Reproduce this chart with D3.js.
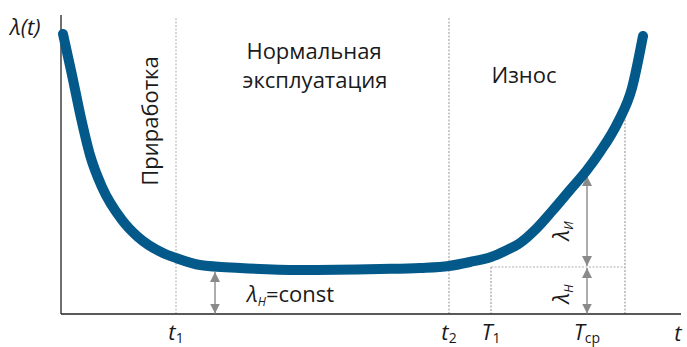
<!DOCTYPE html>
<html lang="ru">
<head>
  <meta charset="utf-8">
  <title>Кривая интенсивности отказов</title>
  <script src="https://d3js.org/d3.v7.min.js"></script>
  <style>
    body { margin: 0; background: #fff; }
    text { font-family: "Open Sans", "Noto Sans", sans-serif; fill: #1a1a1a; }
  </style>
</head>
<body>
<div id="chart"></div>
<script>
const w = 687;
const h = 347;

// bathtub curve (t, lambda in axis units)
const curveT      = [2, 11, 20, 29, 41, 61, 77, 102, 115, 139, 179, 239, 319, 359, 388, 409, 430, 444, 459, 476, 492, 509, 526, 539, 557, 571, 582];
const curveLambda = [280, 239, 196, 159, 127, 94, 77, 61, 56, 49, 46, 44, 45, 46, 48, 52, 57, 63, 71, 86, 104, 124, 144, 162, 192, 226, 278];

// marks on the time axis
const markT    = [115, 388, 430, 526];
const markBase = ["t", "t", "T", "T"];
const markSub  = ["1", "2", "1", "ср"];

const lambdaH = 47;     // level of the constant rate
const lambdaI = 138;    // top of the wear-out arrow
const tCp = 564;        // right dotted line

const phaseLabels = ["Приработка", "Нормальная", "эксплуатация", "Износ"];

const x = d3.scaleLinear().domain([0, 620]).range([61, 681]);
const y = d3.scaleLinear().domain([0, 300]).range([314, 14]);

const svg = d3.select("#chart").append("svg")
  .attr("width", w)
  .attr("height", h);

// dotted guides
svg.append("line")
  .attr("x1", x(markT[0])).attr("x2", x(markT[0]))
  .attr("y1", y(296)).attr("y2", y(0))
  .attr("stroke", "#bdbdbd").attr("stroke-width", 1.2).attr("stroke-dasharray", "2,1.5");
svg.append("line")
  .attr("x1", x(markT[1])).attr("x2", x(markT[1]))
  .attr("y1", y(296)).attr("y2", y(0))
  .attr("stroke", "#a8a8a8").attr("stroke-width", 1.2).attr("stroke-dasharray", "2,1.5");
svg.append("line")
  .attr("x1", x(markT[2])).attr("x2", x(markT[2]))
  .attr("y1", y(lambdaH)).attr("y2", y(0))
  .attr("stroke", "#a0a0a0").attr("stroke-width", 1.2).attr("stroke-dasharray", "2,1.5");
svg.append("line")
  .attr("x1", x(tCp)).attr("x2", x(tCp))
  .attr("y1", y(212)).attr("y2", y(0))
  .attr("stroke", "#a0a0a0").attr("stroke-width", 1.2).attr("stroke-dasharray", "2,1.5");
svg.append("line")
  .attr("x1", x(markT[2])).attr("x2", x(tCp))
  .attr("y1", y(lambdaH)).attr("y2", y(lambdaH))
  .attr("stroke", "#b0b0b0").attr("stroke-width", 1.2).attr("stroke-dasharray", "2,1.5");

// axes
svg.append("line")
  .attr("x1", x(0)).attr("x2", x(0)).attr("y1", y(299)).attr("y2", y(0))
  .attr("stroke", "#222").attr("stroke-width", 1.3);
svg.append("line")
  .attr("x1", x(0)).attr("x2", x(620)).attr("y1", y(0)).attr("y2", y(0))
  .attr("stroke", "#222").attr("stroke-width", 1.3);

// arrow heads
svg.append("defs").append("marker")
  .attr("id", "head")
  .attr("viewBox", "0 0 10 10")
  .attr("refX", 10).attr("refY", 5)
  .attr("markerWidth", 10).attr("markerHeight", 10)
  .attr("markerUnits", "userSpaceOnUse")
  .attr("orient", "auto-start-reverse")
  .append("path")
  .attr("d", "M0,0 L10,5 L0,10 Z")
  .attr("fill", "#8a8a8a");

function dblArrow(tx, l0, l1) {
  svg.append("line")
    .attr("x1", x(tx)).attr("x2", x(tx))
    .attr("y1", y(l0)).attr("y2", y(l1))
    .attr("stroke", "#8a8a8a").attr("stroke-width", 1.4)
    .attr("marker-start", "url(#head)")
    .attr("marker-end", "url(#head)");
}
dblArrow(154, 0.5, 42);
dblArrow(526, 0.5, lambdaH - 1);
dblArrow(526, lambdaH + 1, lambdaI);

// curve
const line = d3.line()
  .x(d => x(d[0]))
  .y(d => y(d[1]))
  .curve(d3.curveMonotoneX);

svg.append("path")
  .datum(curveT.map((t, i) => [t, curveLambda[i]]))
  .attr("d", line)
  .attr("fill", "none")
  .attr("stroke", "#03598a")
  .attr("stroke-width", 10)
  .attr("stroke-linecap", "round");

// axis titles
svg.append("text")
  .attr("x", 10).attr("y", 35)
  .style("font-size", "22px").style("font-style", "italic")
  .text("λ(t)");
svg.append("text")
  .attr("x", 678).attr("y", 341)
  .attr("text-anchor", "middle")
  .style("font-size", "22px").style("font-style", "italic")
  .text("t");

// tick labels
markT.forEach((t, i) => {
  const lbl = svg.append("text")
    .attr("x", x(t)).attr("y", 340)
    .attr("text-anchor", "middle")
    .style("font-size", "22px");
  lbl.append("tspan").style("font-style", "italic").text(markBase[i]);
  lbl.append("tspan").attr("dy", 3).style("font-size", "14px").text(markSub[i]);
});

// phase labels
svg.append("text")
  .attr("transform", `translate(158,121) rotate(-90)`)
  .attr("text-anchor", "middle")
  .style("font-size", "22px")
  .text(phaseLabels[0]);
svg.append("text")
  .attr("x", 314).attr("y", 59)
  .attr("text-anchor", "middle")
  .style("font-size", "22px")
  .text(phaseLabels[1]);
svg.append("text")
  .attr("x", 315).attr("y", 88)
  .attr("text-anchor", "middle")
  .style("font-size", "22px")
  .text(phaseLabels[2]);
svg.append("text")
  .attr("x", 524).attr("y", 83)
  .attr("text-anchor", "middle")
  .style("font-size", "22px")
  .text(phaseLabels[3]);

// lambda_H = const
const lc = svg.append("text")
  .attr("x", 247).attr("y", 302)
  .style("font-size", "22px");
lc.append("tspan").style("font-style", "italic").text("λ");
lc.append("tspan").attr("dy", 4).style("font-size", "12px").style("font-style", "italic").text("Н");
lc.append("tspan").attr("dy", -4).text("=const");

// rotated lambda labels
function rotLambda(cx, cy, sub) {
  const t = svg.append("text")
    .attr("transform", `translate(${cx},${cy}) rotate(-90)`)
    .attr("text-anchor", "middle")
    .style("font-size", "22px");
  t.append("tspan").style("font-style", "italic").text("λ");
  t.append("tspan").attr("dy", 4).style("font-size", "12px").style("font-style", "italic").text(sub);
}
rotLambda(569, 231, "И");
rotLambda(569, 294, "Н");
</script>
</body>
</html>
